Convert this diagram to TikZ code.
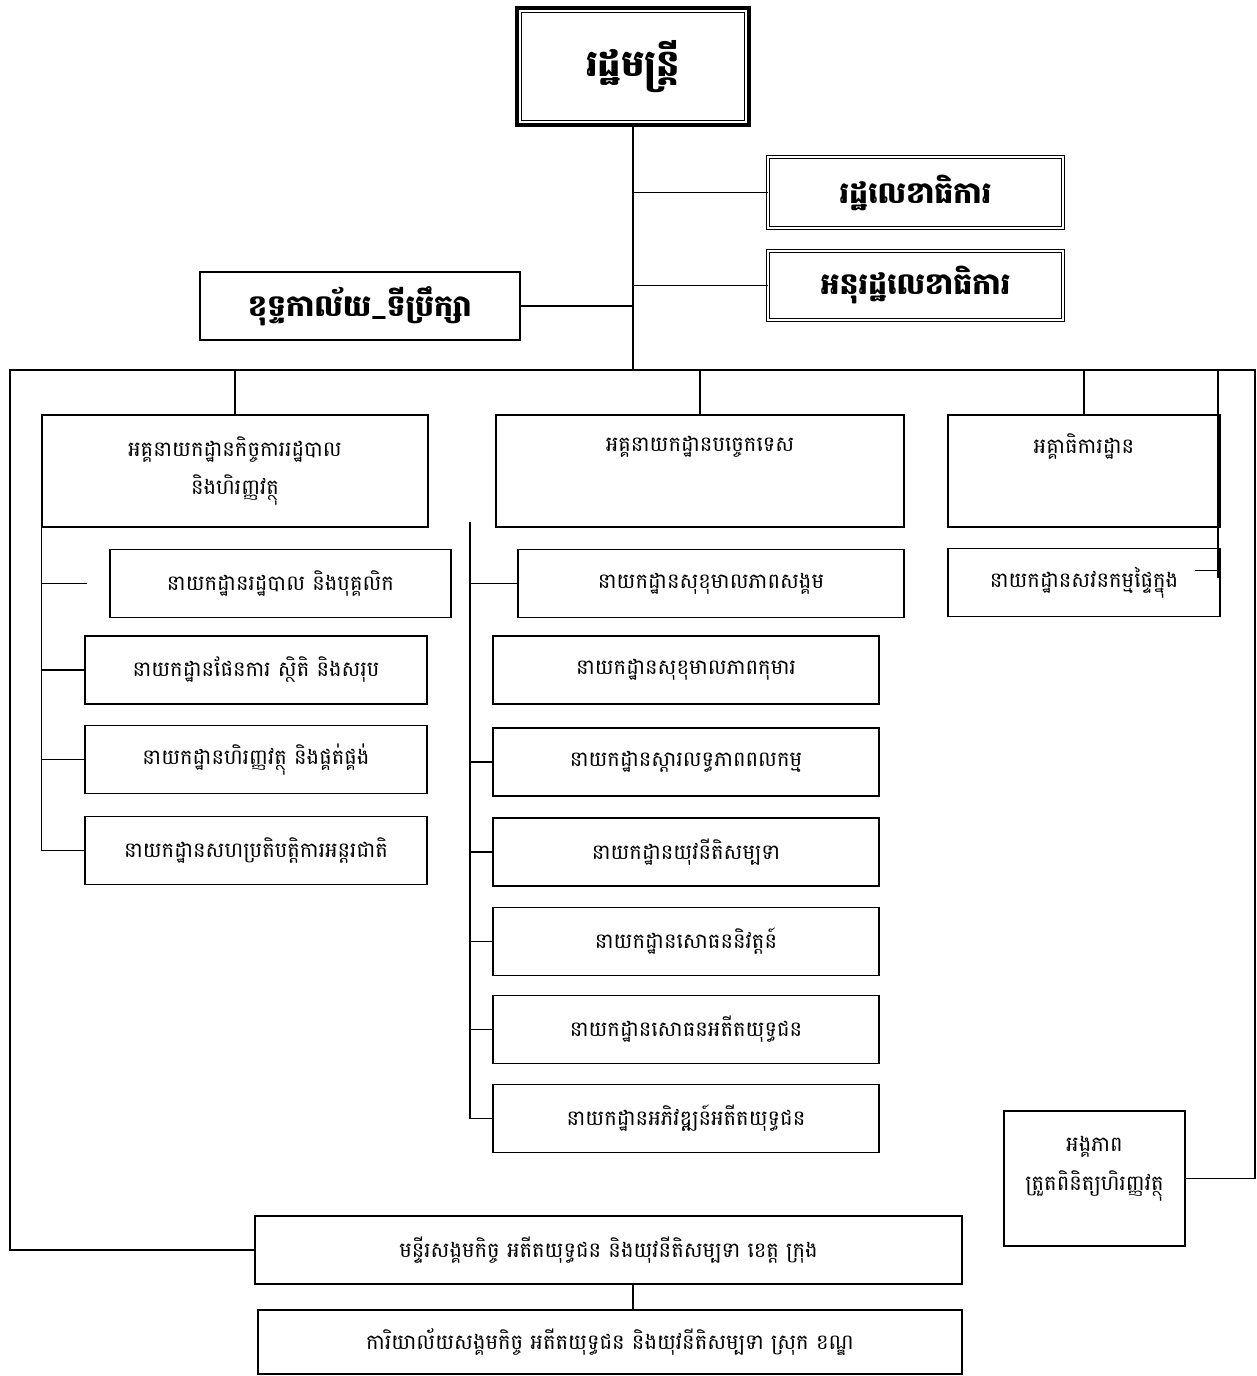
\documentclass[tikz,border=0pt]{standalone}
\usepackage{fontspec}
\newfontfamily\khmer[Script=Khmer]{Battambang}
\usetikzlibrary{positioning}

\begin{document}
\begin{tikzpicture}[x=0.02cm,y=-0.02cm,
		box/.style={draw,line width=0.9pt,align=center,font=\khmer\fontsize{12}{22}\selectfont},
		sub/.style={box,minimum height=1.36cm},
		dept/.style={box,minimum height=2.24cm},
		head/.style={box,font=\khmer\bfseries\fontsize{17}{20}\selectfont},
		twin/.style={double,double distance=1.4pt,line width=0.6pt},
		link/.style={line width=0.8pt}]
		\useasboundingbox (0,0) rectangle (1257,1376);
		
		% minister, secretaries and cabinet
		\node[head,line width=2.2pt,minimum width=4.64cm,minimum height=2.34cm,font=\khmer\bfseries\fontsize{21}{24}\selectfont] (min) at (633,66.5){រដ្ឋមន្ត្រី};
		\draw[line width=0.7pt] ([xshift=3.5pt,yshift=-3.5pt]min.north west) rectangle ([xshift=-3.5pt,yshift=3.5pt]min.south east);
		\node[head,twin,minimum width=5.9cm,minimum height=1.42cm] (sec) at (915.5,192.5){រដ្ឋលេខាធិការ};
		\node[head,twin,minimum width=5.9cm,minimum height=1.38cm] (usec) at (915.5,285.5){អនុរដ្ឋលេខាធិការ};
		\node[head,minimum width=6.4cm,minimum height=1.36cm] (cab) at (360,306){ខុទ្ទកាល័យ\_ទីប្រឹក្សា};
		
		% general departments
		\node[dept,minimum width=7.72cm] (d1) at (235,471){អគ្គនាយកដ្ឋានកិច្ចការរដ្ឋបាល\\និងហិរញ្ញវត្ថុ};
		\node[dept,minimum width=8.16cm,text depth=1.1cm] (d2) at (700,471){អគ្គនាយកដ្ឋានបច្ចេកទេស};
		\node[dept,minimum width=5.44cm,text depth=1.1cm] (d3) at (1084,471){អគ្គាធិការដ្ឋាន};
		
		% departments under d1
		\node[sub,minimum width=6.82cm] (a1) at (280.5,583.5){នាយកដ្ឋានរដ្ឋបាល និងបុគ្គលិក};
		\node[sub,minimum width=6.84cm] (a2) at (256,670){នាយកដ្ឋានផែនការ ស្ថិតិ និងសរុប};
		\node[sub,minimum width=6.84cm] (a3) at (256,759.5){នាយកដ្ឋានហិរញ្ញវត្ថុ និងផ្គត់ផ្គង់};
		\node[sub,minimum width=6.84cm] (a4) at (256,850.5){នាយកដ្ឋានសហប្រតិបត្តិការអន្តរជាតិ};
		
		% departments under d2
		\node[sub,minimum width=7.72cm] (b1) at (711,583.5){នាយកដ្ឋានសុខុមាលភាពសង្គម};
		\node[sub,minimum width=7.72cm] (b2) at (686,670){នាយកដ្ឋានសុខុមាលភាពកុមារ};
		\node[sub,minimum width=7.72cm] (b3) at (686,762){នាយកដ្ឋានស្តារលទ្ធភាពពលកម្ម};
		\node[sub,minimum width=7.72cm] (b4) at (686,852){នាយកដ្ឋានយុវនីតិសម្បទា};
		\node[sub,minimum width=7.72cm] (b5) at (686,941.5){នាយកដ្ឋានសោធននិវត្តន៍};
		\node[sub,minimum width=7.72cm] (b6) at (686,1029.5){នាយកដ្ឋានសោធនអតីតយុទ្ធជន};
		\node[sub,minimum width=7.72cm] (b7) at (686,1118.5){នាយកដ្ឋានអភិវឌ្ឍន៍អតីតយុទ្ធជន};
		
		% under d3, audit unit, provinces
		\node[sub,minimum width=5.44cm] (c1) at (1084,582.5){នាយកដ្ឋានសវនកម្មផ្ទៃក្នុង};
		\node[box,minimum width=3.62cm,minimum height=2.7cm,text depth=0.6cm] (au) at (1094.5,1178.5){អង្គភាព\\ត្រួតពិនិត្យហិរញ្ញវត្ថុ};
		\node[sub,minimum width=14.14cm] (prov) at (608.5,1250){មន្ទីរសង្គមកិច្ច អតីតយុទ្ធជន និងយុវនីតិសម្បទា ខេត្ត ក្រុង};
		\node[sub,minimum width=14.08cm,minimum height=1.28cm] (dist) at (610,1342){ការិយាល័យសង្គមកិច្ច អតីតយុទ្ធជន និងយុវនីតិសម្បទា ស្រុក ខណ្ឌ};
		
		% trunk and bus
		\coordinate (busL) at (10,370);
		\coordinate (busR) at (1255,370);
		\coordinate (insp) at (1218,370);
		\coordinate (tech) at (470,522);
		\draw[link] (min.south) -- (min.south |- busL);
		\draw[link] (prov.west) -- (busL |- prov.west) -- (busL) -- (busR) -- (busR |- au.east) -- (au.east);
		\foreach \n in {sec,usec}{
			\draw[link] (min.south |- \n.west) -- (\n.west);
		}
		\draw[link] (cab.east) -- (cab.east -| min.south);
		\foreach \n in {d1,d2,d3}{
			\draw[link] (\n.north) -- (\n.north |- busL);
		}
		\draw[link] (insp) -- ([yshift=0.1cm]insp |- c1.east);
		\draw[link] ([yshift=0.24cm]insp |- c1.east) -- ++(-23,0);
		
		% left branch
		\draw[link] (d1.south west) -- (d1.south west |- a4.west) -- (a4.west);
		\foreach \n in {a2,a3}{
			\draw[link] (d1.south west |- \n.west) -- (\n.west);
		}
		\draw[link] (d1.south west |- a1.west) -- ++(46,0);
		
		% middle branch
		\draw[link] (tech) -- (tech |- b7.west) -- (b7.west);
		\foreach \n in {b1,b3,b4,b5,b6}{
			\draw[link] (tech |- \n.west) -- (\n.west);
		}
		
		% province to district
		\draw[link] (prov.south -| min.south) -- (dist.north -| min.south);
	\end{tikzpicture}
\end{document}
